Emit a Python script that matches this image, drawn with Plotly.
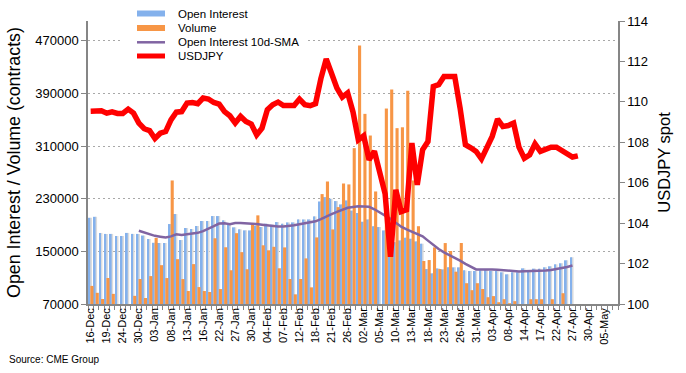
import plotly.graph_objects as go

# ---------------- data ----------------
tick_labels = ["16-Dec", "19-Dec", "24-Dec", "30-Dec", "03-Jan", "08-Jan", "13-Jan", "16-Jan",
               "22-Jan", "27-Jan", "30-Jan", "04-Feb", "07-Feb", "12-Feb", "18-Feb", "21-Feb",
               "26-Feb", "02-Mar", "05-Mar", "10-Mar", "13-Mar", "18-Mar", "23-Mar", "26-Mar",
               "31-Mar", "03-Apr", "08-Apr", "14-Apr", "17-Apr", "22-Apr", "27-Apr", "30-Apr",
               "05-May"]
n_days = 99          # trading days on the axis (16-Dec .. 07-May)
label_every = 3

open_interest = [201000, 202500, 178000, 176500, 176500, 173300, 173300, 178000, 176500, 176500,
                 174000, 168700, 163000, 162700, 162700, 191500, 206700, 167200, 185500, 184000,
                 188500, 196100, 196100, 203600, 203600, 197100, 191000, 186500, 183500, 181900,
                 181800, 189000, 187000, 192000, 190400, 194500, 192000, 194000, 194000, 198500,
                 198500, 198500, 203100, 225800, 232400, 229900, 226400, 221300, 227400, 212000,
                 208100, 195000, 198500, 188000, 186900, 181800, 174200, 164000, 166600, 170700,
                 169200, 165100, 161600, 123100, 116600, 124100, 122600, 125700, 125700, 125700,
                 121100, 120100, 120100, 121100, 122400, 120200, 120200, 118200, 115100, 118200,
                 118200, 124200, 121200, 123700, 123700, 125800, 127300, 130300, 131900, 136400,
                 141000]

volume = [97500, 87000, 77600, 109500, 85400, None, None, None, 82400, 108000,
          79100, 112400, 170400, 129000, 109400, 257700, 138100, 107900, 89700, 130600,
          95700, 89700, 88200, 169900, 92700, 156200, 121300, 177600, 148800, 122800,
          191000, 204700, 159200, 151600, 156900, 124300, 156000, 108000, 84700, 108000,
          139300, 95300, 171200, 237000, 256200, 183300, 217200, 253200, 251700, 306800,
          462700, 358900, 326000, 241000, None, 367000, 395900, 337200, 338500, 394000,
          257700, 188200, 135300, 136800, 156000, 123100, 162600, 150500, 119100, 162700,
          101600, 91000, 101600, 92800, 80300, 82000, 72700, 77300, 71200, 74300,
          None, None, 77300, 77300, 77300, None, 77300, None, 86400, None,
          None]

# 10-day SMA of open interest (starts on the 10th day)
sma_start = 9
oi_sma10 = [181200, 178500, 175100, 173600, 172300, 170900, 172700, 176000, 175000, 175900,
            176600, 178100, 180800, 184100, 188200, 192300, 192800, 191300, 193200, 193000,
            192800, 192100, 191400, 190500, 189300, 188000, 187800, 187900, 188600, 189700,
            191300, 193000, 193900, 195600, 198900, 203100, 206700, 210100, 212800, 216200,
            217500, 218500, 218100, 217700, 213900, 209400, 204500, 199300, 193600, 187500,
            183400, 179500, 176500, 172800, 166300, 159300, 153500, 148400, 144500, 140400,
            135900, 131100, 126600, 122500, 122300, 122900, 122500, 122200, 121500, 120400,
            119700, 119400, 119800, 119900, 120200, 120300, 120900, 121600, 122800, 124500,
            126300, 128600]

usdjpy = [109.54, 109.52, 109.56, 109.44, 109.51, 109.43, 109.43, 109.64, 109.44, 108.95,
          108.67, 108.58, 108.19, 108.45, 108.53, 109.11, 109.49, 109.52, 109.94, 109.97,
          109.91, 110.19, 110.14, 109.97, 109.89, 109.52, 109.31, 108.95, 109.28, 109.03,
          108.90, 108.37, 108.70, 109.61, 109.86, 109.99, 109.82, 109.82, 109.82, 110.14,
          109.86, 109.81, 109.91, 111.15, 112.12, 111.40, 110.68, 110.23, 110.44, 109.50,
          108.12, 108.32, 107.13, 107.56, 106.55, 105.45, 102.34, 105.65, 104.57, 104.66,
          107.96, 105.89, 107.63, 108.04, 110.76, 110.85, 111.26, 111.26, 111.26, 109.70,
          107.88, 107.73, 107.55, 107.18, 107.71, 108.29, 109.15, 108.78, 108.83, 108.95,
          107.76, 107.21, 107.38, 107.92, 107.55, 107.63, 107.76, 107.76, 107.59, 107.46,
          107.27, 107.33]

left_ticks = [70000, 150000, 230000, 310000, 390000, 470000]

# ---------------- figure ----------------
W, H = 686, 373
ML, MR, MT, MB = 88, 68, 21, 69
PW, PH = W - ML - MR, H - MT - MB

def px(xp):
    return (xp - ML) / PW

def py(yp):
    return (H - MB - yp) / PH

x_oi = list(range(len(open_interest)))
x_sma = list(range(sma_start, sma_start + len(oi_sma10)))
x_fx = list(range(len(usdjpy)))

BLUE = "#84B1EC"
ORANGE = "#F79646"
PURPLE = "#8064A2"
RED = "#FF0000"
AXIS = "#868686"
FONT = "Liberation Sans, Arial, sans-serif"

fig = go.Figure()
# soft grey shadow behind the open-interest bars
fig.add_trace(go.Bar(x=x_oi, y=open_interest, offset=-0.12, width=0.32,
                     marker=dict(color="#DCDCDC", line=dict(width=0)),
                     showlegend=False, hoverinfo="skip"))
fig.add_trace(go.Bar(x=x_oi, y=open_interest, name="Open Interest", offset=-0.44, width=0.36,
                     marker=dict(color=BLUE, line=dict(width=0)), showlegend=False))
fig.add_trace(go.Bar(x=x_oi, y=volume, name="Volume", offset=-0.06, width=0.58,
                     marker=dict(color=ORANGE, line=dict(width=0)), showlegend=False))
fig.add_trace(go.Scatter(x=x_sma, y=oi_sma10, name="Open Interest 10d-SMA", mode="lines",
                         line=dict(color=PURPLE, width=2.5), showlegend=False))
fig.add_trace(go.Scatter(x=x_fx, y=usdjpy, name="USDJPY", mode="lines", yaxis="y2",
                         line=dict(color=RED, width=5.5), showlegend=False))

tickvals = [i * label_every for i in range(len(tick_labels))]

shapes = [
    # white legend background (hides the top grid line)
    dict(type="rect", xref="paper", yref="paper", x0=px(123), x1=px(307), y0=py(63), y1=py(0),
         fillcolor="white", line=dict(width=0), layer="above"),
    dict(type="rect", xref="paper", yref="paper", x0=px(137), x1=px(165), y0=py(16.5), y1=py(10.5),
         fillcolor=BLUE, line=dict(width=0), layer="above"),
    dict(type="rect", xref="paper", yref="paper", x0=px(137), x1=px(165), y0=py(31), y1=py(25),
         fillcolor=ORANGE, line=dict(width=0), layer="above"),
    dict(type="line", xref="paper", yref="paper", x0=px(137), x1=px(165), y0=py(42.3), y1=py(42.3),
         line=dict(color=PURPLE, width=2.5), layer="above"),
    dict(type="line", xref="paper", yref="paper", x0=px(137), x1=px(165), y0=py(56), y1=py(56),
         line=dict(color=RED, width=5), layer="above"),
]

legend_names = ["Open Interest", "Volume", "Open Interest 10d-SMA", "USDJPY"]
legend_y = [13.5, 28, 42.3, 56]
annotations = [dict(text=t, xref="paper", yref="paper", x=px(176), y=py(yy), xanchor="left",
                    yanchor="middle", showarrow=False, font=dict(size=11.5, color="black", family=FONT))
               for t, yy in zip(legend_names, legend_y)]
annotations.append(dict(text="Source: CME Group", xref="paper", yref="paper", x=px(7), y=py(359),
                        xanchor="left", yanchor="middle", showarrow=False,
                        font=dict(size=10, color="black", family=FONT)))

fig.update_layout(
    width=W, height=H,
    margin=dict(l=ML, r=MR, t=MT, b=MB, autoexpand=False),
    paper_bgcolor="white", plot_bgcolor="white",
    barmode="overlay",
    font=dict(family=FONT, color="black"),
    shapes=shapes, annotations=annotations,
    showlegend=False,
    xaxis=dict(range=[-0.5, n_days - 0.5], tickmode="array", tickvals=tickvals, ticktext=tick_labels,
               tickangle=-90, tickfont=dict(size=11, family=FONT, color="black"),
               ticklabelstandoff=-2,
               showline=True, linecolor=AXIS, linewidth=1.5, ticks="", showgrid=False, zeroline=False,
               minor=dict(tick0=-0.5, dtick=1, ticks="outside", ticklen=4, tickcolor=AXIS, showgrid=False)),
    yaxis=dict(range=[70000, 500000], tickmode="array", tickvals=left_ticks,
               ticktext=[str(v) for v in left_ticks],
               tickfont=dict(size=13, family=FONT, color="black"),
               ticks="outside", ticklen=5, tickcolor=AXIS, showline=True, linecolor=AXIS, linewidth=1.5,
               showgrid=True, gridcolor="#A8A8A8", griddash="2px,3px", gridwidth=1, zeroline=False,
               title=dict(text="Open Interest / Volume (contracts)", standoff=10,
                          font=dict(size=17.8, family=FONT, color="black"))),
    yaxis2=dict(range=[100, 114], overlaying="y", side="right", tick0=100, dtick=2,
                tickfont=dict(size=13, family=FONT, color="black"),
                ticks="outside", ticklen=5, tickcolor=AXIS, showline=True, linecolor=AXIS, linewidth=1.5,
                showgrid=False, zeroline=False,
                title=dict(text="USDJPY spot", standoff=10,
                           font=dict(size=16.5, family=FONT, color="black"))),
)

fig.write_html("out.html", config={"displayModeBar": False},
               post_script="document.body.style.margin='0';document.body.style.overflow='hidden';")
